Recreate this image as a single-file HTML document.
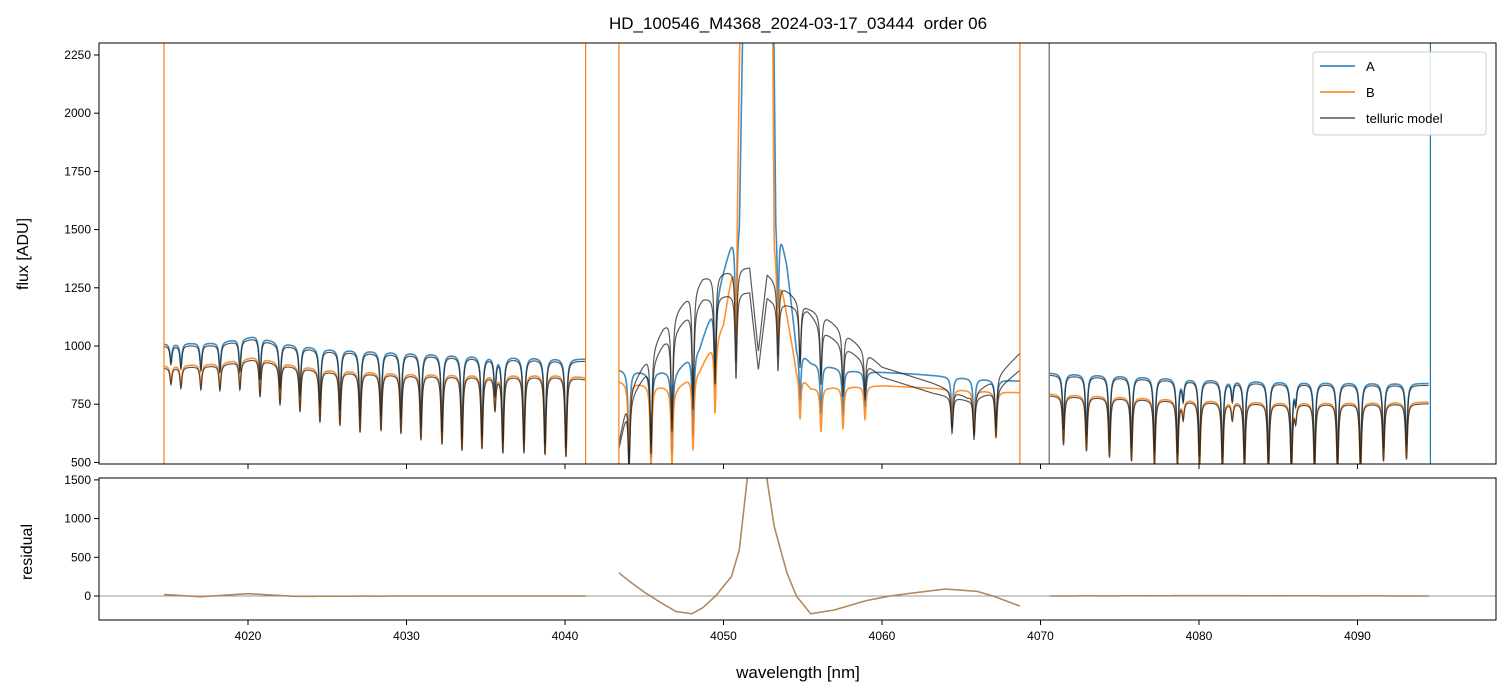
<!DOCTYPE html>
<html><head><meta charset="utf-8"><style>
body{margin:0;background:#fff;}
svg{display:block;font-family:"Liberation Sans","DejaVu Sans",sans-serif;}
</style></head><body>
<svg id="chart" width="1510" height="696" viewBox="0 0 1510 696">
<defs>
<clipPath id="cTop"><rect x="99" y="43" width="1397" height="421"/></clipPath>
<clipPath id="cBot"><rect x="99" y="478" width="1397" height="142"/></clipPath>
</defs>
<text x="798" y="29" text-anchor="middle" font-size="17" style="white-space:pre">HD_100546_M4368_2024-03-17_03444  order 06</text>
<g id="topPlot" clip-path="url(#cTop)"></g>
<g id="botPlot" clip-path="url(#cBot)"></g>
<rect x="99" y="43" width="1397" height="421" fill="none" stroke="#000" stroke-width="1"/>
<rect x="99" y="478" width="1397" height="142" fill="none" stroke="#000" stroke-width="1"/>
<g id="axes"></g>
<text x="28" y="254" text-anchor="middle" font-size="16" transform="rotate(-90 28 254)">flux [ADU]</text>
<text x="32" y="552" text-anchor="middle" font-size="16" transform="rotate(-90 32 552)">residual</text>
<text x="798" y="678" text-anchor="middle" font-size="17">wavelength [nm]</text>
<g>
<rect x="1313" y="52" width="173" height="83" fill="#fff" fill-opacity="0.85" stroke="#ccc" rx="3"/>
<line x1="1320" y1="66" x2="1355" y2="66" stroke="#1f77b4" stroke-width="1.5"/>
<text x="1366" y="71" font-size="13">A</text>
<line x1="1320" y1="92" x2="1355" y2="92" stroke="#ff7f0e" stroke-width="1.5"/>
<text x="1366" y="97" font-size="13">B</text>
<line x1="1320" y1="118" x2="1355" y2="118" stroke="#555" stroke-width="1.5"/>
<text x="1366" y="123" font-size="13">telluric model</text>
</g>
</svg>
<script>
// ---- data ----
const segments = [[4014.7,4041.3],[4043.4,4068.7],[4070.6,4094.5]];
const contA_wl = [4014.7,4016,4018,4020.5,4022,4025,4030,4035,4038,4041.3, 4043.4,4045,4047,4048.5,4049.5,4050.5,4051,4051.5,4053,4053.3,4054,4054.6,4055.5,4058,4062,4066,4068.7, 4070.6,4075,4080,4085,4090,4094.5];
const contA_val= [1010,1013,1015,1045,1015,990,975,960,955,945, 900,890,895,1000,1200,1450,1550,3500,3500,1600,1350,1000,930,895,880,860,850, 885,875,860,850,845,840];
const contB_wl = [4014.7,4018,4020.5,4022,4025,4030,4035,4040,4041.3, 4043.4,4047,4048.5,4050,4050.8,4051.3,4053,4053.2,4054.6,4055.5,4060,4068.7, 4070.6,4075,4080,4085,4090,4094.5];
const contB_val= [915,925,955,930,900,885,880,880,865, 850,820,900,1100,1430,3500,3500,1450,900,820,830,800, 795,785,770,760,760,760];
const modA_wl = [4043.4,4044,4046.2,4048.7,4051.2,4052.2,4053.0,4055.3,4056.5,4058.2,4060.0,4063.2,4065.4,4067.0,4068.7];
const modA_val= [583,800,1082,1296,1339,1339,1296,1167,1125,1025,910,841,781,853,970];
const modB_wl = [4043.4,4044,4046.2,4048.7,4051.2,4052.2,4053.0,4055.3,4056.5,4058.2,4060.0,4063.2,4065.4,4067.0,4068.7];
const modB_val= [560,760,1013,1206,1232,1232,1198,1155,1056,970,867,798,768,800,897];
const line_wl = [4015.14,4015.77,4017.03,4018.23,4019.49,4020.76,4022.02,4023.28,4024.54,4025.80,4027.07,4028.39,4029.65,4030.91,4032.24,4033.50,4034.76,4035.58,4036.08,4037.41,4038.74,4040.06,
 4044.04,4045.43,4046.75,4048.08,4049.47,4050.79,4053.44,4054.83,4056.15,4057.54,4058.93,4064.42,4065.81,4067.19,
 4071.45,4072.90,4074.35,4075.74,4077.19,4078.64,4080.03,4081.48,4082.87,4084.38,4085.83,4087.29,4088.74,4090.19,4091.64,4093.09,4079.0,4082.1,4086.1];
const line_depth=[0.08,0.1,0.11,0.12,0.13,0.17,0.19,0.21,0.25,0.26,0.29,0.28,0.29,0.32,0.34,0.37,0.36,0.17,0.38,0.38,0.39,0.4,
 0.4,0.42,0.4,0.37,0.31,0.3,0.25,0.22,0.23,0.22,0.17,0.2,0.23,0.25,
 0.27,0.3,0.33,0.35,0.37,0.37,0.38,0.39,0.39,0.4,0.4,0.4,0.4,0.4,0.33,0.32,0.1,0.1,0.1];
const vline_wl = [4052.2];
const vline_depth = [0.27];
const res_wl = [4014.7,4017,4020,4023,4030,4041.3, 4043.4,4044,4045,4046,4047,4048,4048.7,4049.5,4050.5,4051,4051.6,4052.6,4053.2,4054,4054.6,4055.5,4057,4059,4060.5,4062,4064,4066,4067,4068.7, 4070.6,4080,4094.5];
const res_val= [20,-10,30,-5,0,0, 300,200,50,-80,-200,-230,-150,0,250,600,1700,1700,900,300,0,-230,-180,-60,0,40,90,60,0,-130, 0,5,0];
const spike_wl = [4014.7,4041.3,4043.4,4068.7,4070.55,4094.6];
const spike_col= ['#ff7f0e','#ff7f0e','#ff7f0e','#ff7f0e','#666','#1f77b4'];
const yTicksTop = [500,750,1000,1250,1500,1750,2000,2250];
const yTicksBot = [0,500,1000,1500];
const xTicks = [4020,4030,4040,4050,4060,4070,4080,4090];

// ---- scales ----
const X = w => 248 + (w-4020)*15.85;
const YT = f => 55 + (2250-f)*0.2328;
const YB = r => 596 - r*0.0774;
function interp(xs, ys, x, lo, hi){
  let a=-1,b=-1;
  for(let i=0;i<xs.length;i++){ if(xs[i]>=lo-1e-6 && xs[i]<=hi+1e-6){ if(a<0)a=i; b=i; } }
  if(x<=xs[a]) return ys[a]; if(x>=xs[b]) return ys[b];
  for(let i=a;i<b;i++){ if(x>=xs[i]&&x<=xs[i+1]){const t=(x-xs[i])/(xs[i+1]-xs[i]);return ys[i]+t*(ys[i+1]-ys[i]);} }
  return ys[b];
}
function trans(w, withV){
  let t=1;
  for(let i=0;i<line_wl.length;i++){const d=(w-line_wl[i])/0.07; t*=1-line_depth[i]/(1+d*d);}
  if(withV) for(let i=0;i<vline_wl.length;i++){const d=(w-vline_wl[i])/0.55; t*=1-vline_depth[i]*Math.max(0,1-Math.abs(d));}
  return t;
}
const NS='http://www.w3.org/2000/svg';
const topG=document.getElementById('topPlot'), botG=document.getElementById('botPlot'), axesG=document.getElementById('axes');
function poly(parent, pts, color, width, op, name){
  const p=document.createElementNS(NS,'polyline');
  p.setAttribute('points', pts.join(' '));
  p.setAttribute('fill','none'); p.setAttribute('stroke',color);
  p.setAttribute('stroke-width',width); p.setAttribute('stroke-opacity',op);
  
  
  parent.appendChild(p);
}
const step=0.015;
segments.forEach((s,si)=>{
  const mid = si===1;
  const pa=[],pb=[],ma=[],mb=[],rr=[];
  for(let w=s[0]; w<=s[1]+1e-9; w+=step){
    const t=trans(w,false), tv=trans(w,true);
    const ca=interp(contA_wl,contA_val,w,s[0],s[1]), cb=interp(contB_wl,contB_val,w,s[0],s[1]);
    const x=X(w).toFixed(2);
    pa.push(x+','+YT(ca*t).toFixed(2));
    pb.push(x+','+YT(cb*t).toFixed(2));
    const mA = mid? interp(modA_wl,modA_val,w,s[0],s[1])*tv : ca*t*0.99;
    const mB = mid? interp(modB_wl,modB_val,w,s[0],s[1])*tv : cb*t*0.99;
    ma.push(x+','+YT(mA).toFixed(2)); mb.push(x+','+YT(mB).toFixed(2));
    rr.push(x+','+YB(interp(res_wl,res_val,w,s[0],s[1])).toFixed(2));
  }
  poly(topG,pa,'#1f77b4',1.6,0.85,'series-a-seg'+si);
  poly(topG,pb,'#ff7f0e',1.6,0.85,'series-b-seg'+si);
  poly(topG,ma,'#222',1.2,0.75,'telluric-model-a-seg'+si);
  poly(topG,mb,'#222',1.2,0.75,'telluric-model-b-seg'+si);
  poly(botG,rr,'#1f77b4',1.5,0.85,'residual-a-seg'+si);
  poly(botG,rr,'#ff7f0e',1.1,0.8,'residual-b-seg'+si);
});
spike_wl.forEach((w,i)=>{
  const l=document.createElementNS(NS,'line');
  l.setAttribute('x1',X(w)); l.setAttribute('x2',X(w)); l.setAttribute('y1',43); l.setAttribute('y2',464);
  l.setAttribute('stroke',spike_col[i]); l.setAttribute('stroke-width',1.2);
  
  
  topG.appendChild(l);
});
const z=document.createElementNS(NS,'line');
z.setAttribute('x1',99); z.setAttribute('x2',1496); z.setAttribute('y1',YB(0)); z.setAttribute('y2',YB(0));
z.setAttribute('stroke','#777'); z.setAttribute('stroke-width',0.8);


botG.insertBefore(z,botG.firstChild);
function tick(x1,y1,x2,y2){const l=document.createElementNS(NS,'line');l.setAttribute('x1',x1);l.setAttribute('y1',y1);l.setAttribute('x2',x2);l.setAttribute('y2',y2);l.setAttribute('stroke','#000');
 
 
 axesG.appendChild(l);}
function label(x,y,txt,anchor){const t=document.createElementNS(NS,'text');t.setAttribute('x',x);t.setAttribute('y',y);t.setAttribute('font-size','12');t.setAttribute('text-anchor',anchor);t.textContent=txt;
 
 
 axesG.appendChild(t);}
yTicksTop.forEach(v=>{tick(94,YT(v),99,YT(v));label(91,YT(v)+4,String(v),'end');});
yTicksBot.forEach(v=>{tick(94,YB(v),99,YB(v));label(91,YB(v)+4,String(v),'end');});
xTicks.forEach(v=>{tick(X(v),464,X(v),469);tick(X(v),620,X(v),625);label(X(v),640,String(v),'middle');});
</script>
</body></html>
